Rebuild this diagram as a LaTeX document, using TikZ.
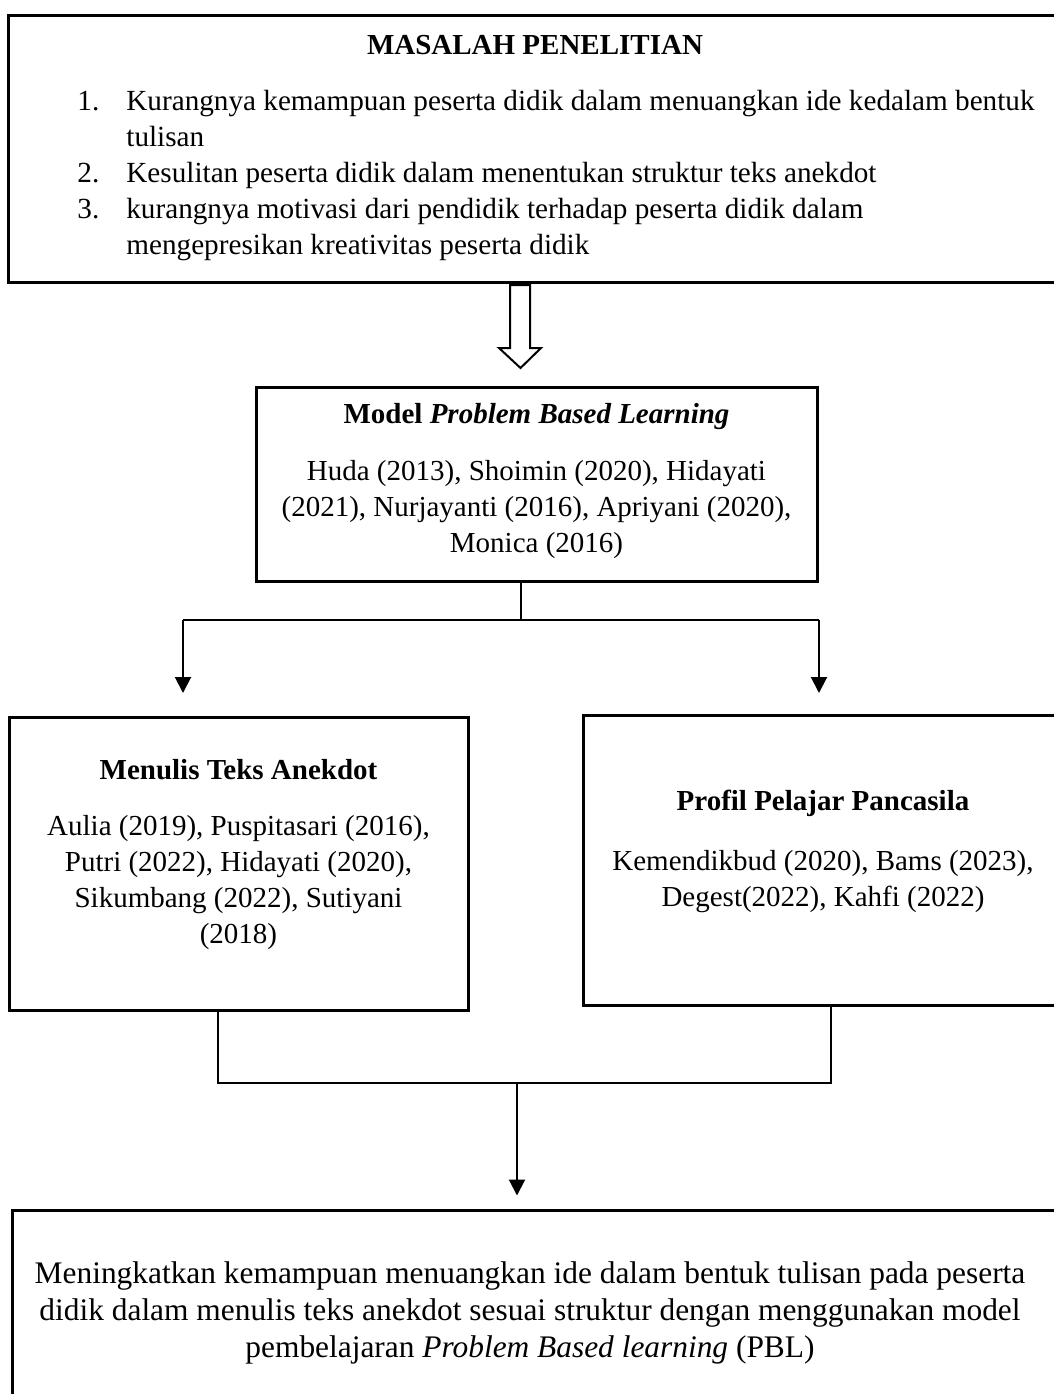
\documentclass[tikz,border=0pt]{standalone}
\usepackage{fontspec}
\setmainfont{Liberation Serif}
\usetikzlibrary{arrows.meta,fit}
\tikzset{
  frame/.style={draw, line width=1.5pt, inner sep=0pt},
  txt/.style={inner sep=0pt, font=\fontsize{14.5}{18}\selectfont, align=center},
  bigtxt/.style={inner sep=0pt, font=\fontsize{15.7}{18.6}\selectfont, align=center},
  ttl/.style={inner sep=0pt, font=\fontsize{14.5}{18}\selectfont\bfseries, align=center},
  conn/.style={line width=0.8pt},
  arr/.style={line width=1pt, -{Triangle[length=8pt,width=8pt]}},
  hollow/.style={draw, line width=1pt, fill=white},
}
\begin{document}
\begin{tikzpicture}[x=0.5pt,y=-0.5pt]
\useasboundingbox (0,0) rectangle (1054,1394);
\clip (0,0) rectangle (1054,1394);
% top box
\node[frame, fit={(8,15) (1062,282)}] (masalah) {};
\node[ttl] (t1) at (535,45) {MASALAH PENELITIAN};
\node[txt, align=left, anchor=west, font=\fontsize{14.6}{18}\selectfont] (list) at (77,175.5) {%
\makebox[24.5pt][l]{1.}Kurangnya kemampuan peserta didik dalam menuangkan ide kedalam bentuk\\
\hspace*{24.5pt}tulisan\\
\makebox[24.5pt][l]{2.}Kesulitan peserta didik dalam menentukan struktur teks anekdot\\
\makebox[24.5pt][l]{3.}kurangnya motivasi dari pendidik terhadap peserta didik dalam\\
\hspace*{24.5pt}mengepresikan kreativitas peserta didik};
% hollow arrow
\draw[hollow] (510,285) -- (510,348) -- (499,348) -- (520.5,368) -- (541,348) -- (530,348) -- (530,285) -- cycle;
% model box
\node[frame, fit={(256,387) (817,581)}] (model) {};
\node[ttl] (t2) at (536.5,417) {Model \textit{Problem Based Learning}};
\node[txt] (x2) at (536.5,510) {Huda (2013), Shoimin (2020), Hidayati\\(2021), Nurjayanti (2016), Apriyani (2020),\\Monica (2016)};
% split connectors
\coordinate (split) at (521,620);
\coordinate (jl) at (183,620);
\coordinate (jr) at (819,620);
\coordinate (al) at (183,693);
\coordinate (ar) at (819,693);
\draw[conn] (model.south -| split) -- (split);
\draw[conn] (jl) -- (jr);
\draw[arr] (jl) -- (al);
\draw[arr] (jr) -- (ar);
% left box
\node[frame, fit={(9,717) (468,1010)}] (anek) {};
\node[ttl] (t3) at (238.5,770) {Menulis Teks Anekdot};
\node[txt] (x3) at (238.5,882.5) {Aulia (2019), Puspitasari (2016),\\Putri (2022), Hidayati (2020),\\Sikumbang (2022), Sutiyani\\(2018)};
% right box
\node[frame, fit={(583,715) (1063,1005)}] (profil) {};
\node[ttl] (t4) at (823,803) {Profil Pelajar Pancasila};
\node[txt] (x4) at (823,881.5) {Kemendikbud (2020), Bams (2023),\\Degest(2022), Kahfi (2022)};
% merge connectors
\coordinate (bl) at (218,1083);
\coordinate (br) at (831,1083);
\coordinate (bm) at (517,1083);
\draw[conn] (anek.south -| bl) -- (bl) -- (br) -- (profil.south -| br);
% bottom box
\node[frame, fit={(12,1210) (1062,1420)}] (hasil) {};
\draw[arr, shorten >=6.5pt] (bm) -- (hasil.north -| bm);
\node[bigtxt] (x5) at (530,1313) {Meningkatkan kemampuan menuangkan ide dalam bentuk tulisan pada peserta\\didik dalam menulis teks anekdot sesuai struktur dengan menggunakan model\\pembelajaran \textit{Problem Based learning} (PBL)};
\end{tikzpicture}
\end{document}
